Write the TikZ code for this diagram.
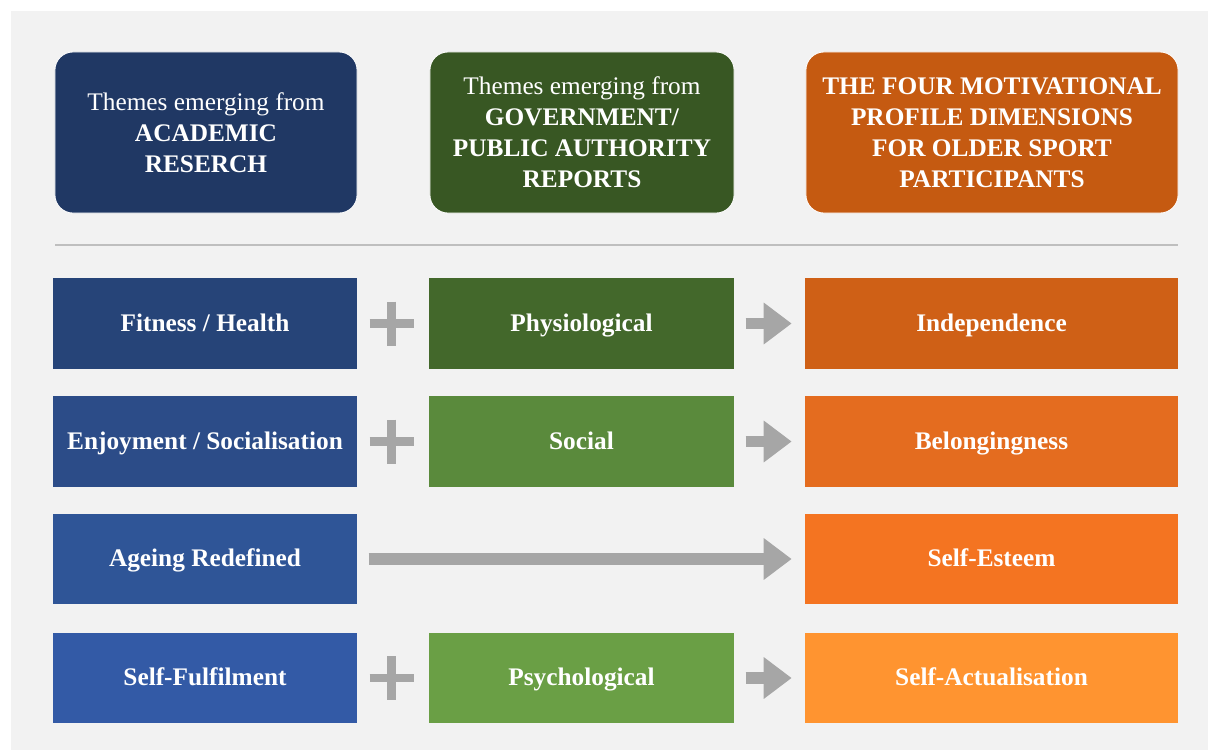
\documentclass[tikz,border=0pt]{standalone}
\usepackage{fontspec}
\setmainfont{Liberation Serif}
\usetikzlibrary{arrows.meta,positioning}

\definecolor{bgGray}{HTML}{F2F2F2}
\definecolor{sepGray}{HTML}{BFBFBF}
\definecolor{linkGray}{HTML}{A6A6A6}
\definecolor{headBlue}{HTML}{203864}
\definecolor{headGreen}{HTML}{385723}
\definecolor{headOrange}{HTML}{C55A11}
\definecolor{blueA}{HTML}{264478}
\definecolor{blueB}{HTML}{2C4C88}
\definecolor{blueC}{HTML}{2F5597}
\definecolor{blueD}{HTML}{335AA6}
\definecolor{greenA}{HTML}{43682B}
\definecolor{greenB}{HTML}{5A8A3C}
\definecolor{greenD}{HTML}{6A9F45}
\definecolor{orangeA}{HTML}{CF6016}
\definecolor{orangeB}{HTML}{E46C1F}
\definecolor{orangeC}{HTML}{F47421}
\definecolor{orangeD}{HTML}{FF9430}

\begin{document}
\begin{tikzpicture}[x=0.025cm,y=-0.025cm,
  every node/.style={font=\fontsize{18}{22}\selectfont, text=white, align=center, inner sep=0pt},
  head/.style={draw=white, line width=0.6pt, rounded corners=0.45cm, minimum height=4.025cm},
  theme/.style={font=\fontsize{18}{22}\selectfont\bfseries, minimum height=2.26cm,
    text height=12pt, text depth=1pt},
  plusbar/.style={draw=linkGray, line width=0.21cm},
  flow/.style={draw=linkGray, line width=0.29cm, -{Triangle[width=1cm,length=0.7cm]},
    shorten <=0.28cm, shorten >=0.325cm}]

  % page and panel
  \fill[white] (0,0) rectangle (1208,750);
  \fill[bgGray] (11,11) rectangle (1208,750);

  % column headers
  \node[head, fill=headBlue, minimum width=7.55cm] (h1) at (206,132.5)
    {Themes emerging from\\\textbf{ACADEMIC}\\\textbf{RESERCH}};
  \node[head, fill=headGreen, minimum width=7.6cm] (h2) at (582,132.5)
    {Themes emerging from\\\textbf{GOVERNMENT/}\\\textbf{PUBLIC AUTHORITY}\\\textbf{REPORTS}};
  \node[head, fill=headOrange, minimum width=9.3cm] (h3) at (992,132.5)
    {\textbf{THE FOUR MOTIVATIONAL}\\\textbf{PROFILE DIMENSIONS}\\\textbf{FOR OLDER SPORT}\\\textbf{PARTICIPANTS}};

  \draw[sepGray, line width=0.8pt] (55,245) -- (1178,245);

  % academic themes
  \node[theme, fill=blueA, minimum width=7.6cm] (a1) at (205,323.5) {Fitness / Health};
  \node[theme, fill=blueB, minimum width=7.6cm] (a2) at (205,441.5) {Enjoyment / Socialisation};
  \node[theme, fill=blueC, minimum width=7.6cm] (a3) at (205,559)   {Ageing Redefined};
  \node[theme, fill=blueD, minimum width=7.6cm] (a4) at (205,678)   {Self-Fulfilment};

  % government themes
  \node[theme, fill=greenA, minimum width=7.625cm] (g1) at (581.5,323.5) {Physiological};
  \node[theme, fill=greenB, minimum width=7.625cm] (g2) at (581.5,441.5) {Social};
  \node[theme, fill=greenD, minimum width=7.625cm] (g4) at (581.5,678)   {Psychological};

  % profile dimensions
  \node[theme, fill=orangeA, minimum width=9.325cm] (d1) at (991.5,323.5) {Independence};
  \node[theme, fill=orangeB, minimum width=9.325cm] (d2) at (991.5,441.5) {Belongingness};
  \node[theme, fill=orangeC, minimum width=9.325cm] (d3) at (991.5,559)   {Self-Esteem};
  \node[theme, fill=orangeD, minimum width=9.325cm] (d4) at (991.5,678)   {Self-Actualisation};

  % plus signs
  \foreach \r/\y in {1/323.5, 2/441.5, 4/678} {
    \coordinate (p\r) at (391.5,\y);
    \draw[plusbar] (p\r) +(-22,0) -- +(22,0) (p\r) +(0,-22) -- +(0,22);
  }

  % arrows
  \draw[flow] (g1) -- (d1);
  \draw[flow] (g2) -- (d2);
  \draw[flow] (a3) -- (d3);
  \draw[flow] (g4) -- (d4);

\end{tikzpicture}
\end{document}
